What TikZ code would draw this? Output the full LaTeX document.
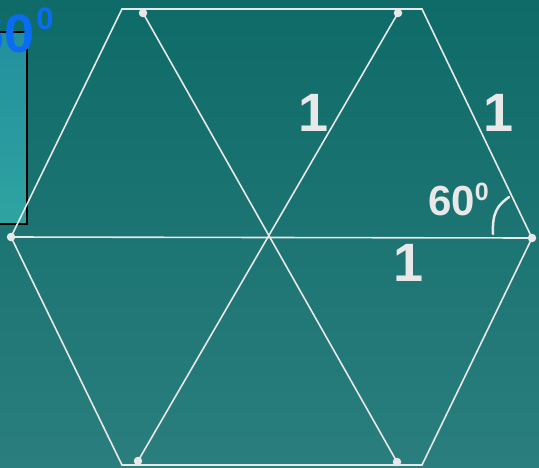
\documentclass[tikz,border=0pt]{standalone}
\usepackage{fontspec}
\setmainfont{Liberation Sans}
\usepackage{xcolor}

\definecolor{bgtop}{HTML}{0E6B68}
\definecolor{bgbot}{HTML}{2A7E7E}
\definecolor{boxtop}{HTML}{22909C}
\definecolor{boxbot}{HTML}{2FA3A2}
\definecolor{chalk}{HTML}{E8E8E8}
\definecolor{angblue}{HTML}{0A6CF5}

\newcommand{\supzero}[2]{{\fontsize{#1}{#1}\selectfont\raisebox{#2}{0}}}

\begin{document}
\begin{tikzpicture}[x=1pt,y=-1pt,
    edge/.style={draw=chalk,line width=1.6pt},
    vdot/.style={circle,fill=chalk,inner sep=0pt,minimum size=8.5pt},
    unit/.style={text=chalk,inner sep=0pt,font=\bfseries\fontsize{54}{54}\selectfont}]
    \useasboundingbox (0,0) rectangle (539,467);
    \clip (0,0) rectangle (539,467);
    \shade[top color=bgtop,bottom color=bgbot] (0,0) rectangle (539,467);

    % box on the left, cut by the page
    \draw[black,line width=2pt,top color=boxtop,bottom color=boxbot] (-10,32) rectangle (27,224);

    % hexagon
    \coordinate (L) at (11,237);
    \coordinate (TL) at (122,9);
    \coordinate (TR) at (422,9);
    \coordinate (R) at (532,238);
    \coordinate (BR) at (422,465);
    \coordinate (BL) at (122,465);
    \draw[edge] (L) -- (TL) -- (TR) -- (R) -- (BR) -- (BL) -- cycle;

    % diagonals
    \node[vdot] (a) at (143,13) {};
    \node[vdot] (b) at (398,13) {};
    \node[vdot] (c) at (138,461) {};
    \node[vdot] (d) at (397,462) {};
    \node[vdot] (l) at (L) {};
    \node[vdot] (r) at (R) {};
    \draw[edge] (l.center) -- (r.center);
    \draw[edge] (a.center) -- (d.center);
    \draw[edge] (b.center) -- (c.center);

    % lengths
    \node[unit] (s1) at (314,113) {1};
    \node[unit] (s2) at (499,113) {1};
    \node[unit] (s3) at (409,263) {1};

    % angle
    \draw[chalk,line width=2.5pt,line cap=round] (493,234) .. controls (492,212) and (498,205) .. (509,197);
    \node[text=chalk,inner sep=0pt,anchor=base west,font=\bfseries\fontsize{42}{42}\selectfont] (ang) at (428,215) {60\supzero{25}{15pt}};
    \node[text=angblue,inner sep=0pt,anchor=base west,font=\bfseries\fontsize{54}{54}\selectfont] (topang) at (-26,52) {60\hspace{2pt}\supzero{31}{23pt}};
\end{tikzpicture}
\end{document}
